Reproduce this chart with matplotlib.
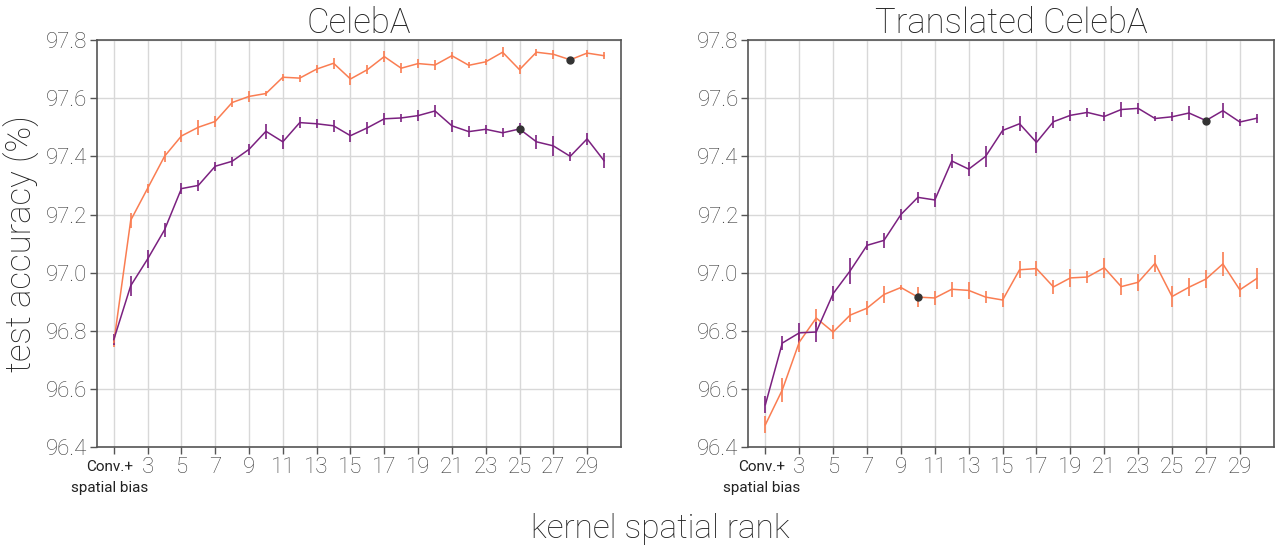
import numpy as np
import matplotlib
matplotlib.use("Agg")
import matplotlib.pyplot as plt
from matplotlib.transforms import ScaledTranslation

plt.rcParams['font.family'] = ['Roboto', 'DejaVu Sans']

# x = 1 is "Conv.+ spatial bias", then kernel ranks 2..30
ranks = np.arange(1, 31)
tick_pos = np.arange(1, 30, 2)
tick_labels = ["Conv.+"] + [str(t) for t in tick_pos[1:]]
first_label_line2 = "spatial bias"

# CelebA
celeba_orange = [96.76, 97.18, 97.29, 97.40, 97.47, 97.50, 97.52, 97.585, 97.606, 97.616,
                 97.672, 97.669, 97.70, 97.72, 97.666, 97.698, 97.743, 97.703, 97.719, 97.714,
                 97.746, 97.713, 97.725, 97.758, 97.698, 97.758, 97.751, 97.732, 97.755, 97.746]
celeba_orange_err = [0.015, 0.025, 0.015, 0.02, 0.02, 0.025, 0.02, 0.015, 0.02, 0.01,
                     0.012, 0.012, 0.015, 0.018, 0.02, 0.015, 0.02, 0.018, 0.015, 0.018,
                     0.012, 0.01, 0.01, 0.018, 0.015, 0.012, 0.015, 0.01, 0.012, 0.012]
celeba_purple = [96.77, 96.955, 97.047, 97.147, 97.289, 97.30, 97.366, 97.383, 97.424, 97.486,
                 97.45, 97.516, 97.512, 97.505, 97.471, 97.498, 97.529, 97.532, 97.54, 97.556,
                 97.505, 97.485, 97.493, 97.481, 97.494, 97.45, 97.436, 97.40, 97.46, 97.385]
celeba_purple_err = [0.02, 0.035, 0.03, 0.025, 0.02, 0.02, 0.015, 0.015, 0.02, 0.025,
                     0.025, 0.02, 0.015, 0.02, 0.02, 0.02, 0.02, 0.015, 0.02, 0.02,
                     0.02, 0.02, 0.015, 0.015, 0.02, 0.025, 0.035, 0.015, 0.02, 0.025]

# Translated CelebA
trans_orange = [96.477, 96.597, 96.761, 96.844, 96.796, 96.854, 96.878, 96.925, 96.949, 96.916,
                96.913, 96.943, 96.939, 96.916, 96.906, 97.010, 97.014, 96.951, 96.982, 96.985,
                97.017, 96.952, 96.967, 97.032, 96.918, 96.95, 96.978, 97.03, 96.941, 96.98]
trans_orange_err = [0.03, 0.04, 0.035, 0.03, 0.025, 0.025, 0.025, 0.03, 0.01, 0.035,
                    0.025, 0.025, 0.03, 0.02, 0.025, 0.03, 0.025, 0.025, 0.03, 0.02,
                    0.035, 0.03, 0.03, 0.03, 0.035, 0.03, 0.03, 0.04, 0.025, 0.035]
trans_purple = [96.546, 96.758, 96.793, 96.796, 96.928, 97.006, 97.094, 97.111, 97.20, 97.259,
                97.25, 97.384, 97.356, 97.40, 97.489, 97.512, 97.448, 97.519, 97.541, 97.551,
                97.537, 97.561, 97.565, 97.530, 97.536, 97.549, 97.523, 97.557, 97.518, 97.531]
trans_purple_err = [0.03, 0.025, 0.035, 0.035, 0.025, 0.045, 0.015, 0.025, 0.02, 0.02,
                    0.025, 0.025, 0.025, 0.035, 0.015, 0.025, 0.035, 0.02, 0.02, 0.015,
                    0.015, 0.025, 0.02, 0.01, 0.015, 0.025, 0.01, 0.025, 0.012, 0.015]

# best points (rank, value)
best_left = [(28, celeba_orange[27]), (25, celeba_purple[24])]
best_right = [(10, trans_orange[9]), (27, trans_purple[26])]

ORANGE = "#fa7d52"
PURPLE = "#7b2180"
GRAY = "#555555"
TEXT = "#222222"

fig = plt.figure(figsize=(12.75, 5.48), dpi=100)
ax1 = fig.add_axes([0.076, 0.184, 0.411, 0.743])
ax2 = fig.add_axes([0.587, 0.184, 0.412, 0.743])

panels = [
    (ax1, "CelebA", celeba_orange, celeba_orange_err, celeba_purple, celeba_purple_err, best_left),
    (ax2, "Translated CelebA", trans_orange, trans_orange_err, trans_purple, trans_purple_err, best_right),
]

for ax, title, yo, eo, yp, ep, best in panels:
    ax.errorbar(ranks, yo, yerr=eo, color=ORANGE, lw=1.1, elinewidth=1.2, capsize=0, zorder=3)
    ax.errorbar(ranks, yp, yerr=ep, color=PURPLE, lw=1.1, elinewidth=1.2, capsize=0, zorder=3)
    for bx, by in best:
        ax.plot(bx, by, "o", color="#333333", ms=5, zorder=4)

    ax.set_xlim(0, 31)
    ax.set_ylim(96.4, 97.8)
    yt = np.arange(96.4, 97.81, 0.2)
    ax.set_yticks(yt)
    ax.set_yticklabels([f"{v:.1f}" for v in yt])
    ax.set_xticks(tick_pos)
    ax.set_xticklabels(tick_labels)
    ax.grid(True, color="#d8d8d8", lw=1.0, zorder=0)
    ax.set_axisbelow(True)
    for s in ax.spines.values():
        s.set_color(GRAY)
        s.set_linewidth(1.2)
    ax.tick_params(axis="both", direction="out", length=5, width=1, color=GRAY,
                   labelsize=16, labelcolor="#3c3c3c", pad=2)
    for lab in ax.get_yticklabels():
        lab.set_fontweight("light")
    xl = ax.get_xticklabels()
    for lab in xl[1:]:
        lab.set_fontweight("light")
    first = xl[0]
    first.set_fontsize(11)
    first.set_color(TEXT)
    first.set_transform(first.get_transform() + ScaledTranslation(-4 / 100, -3 / 100, fig.dpi_scale_trans))
    # second line of the first tick label
    ax.text(tick_pos[0], 0, first_label_line2, fontsize=11, color=TEXT, ha="center", va="top",
            transform=ax.get_xaxis_transform() + ScaledTranslation(-4 / 100, -34 / 100, fig.dpi_scale_trans),
            clip_on=False)
    ax.set_title(title, fontsize=25, fontweight="light", color=TEXT, pad=5)

ax1.set_ylabel("test accuracy (%)", fontsize=25, fontweight="light", color=TEXT, labelpad=4)
fig.text(0.518, 0.035, "kernel spatial rank", ha="center", va="center",
         fontsize=24, fontweight="light", color=TEXT)

fig.savefig("out.png", dpi=100)
